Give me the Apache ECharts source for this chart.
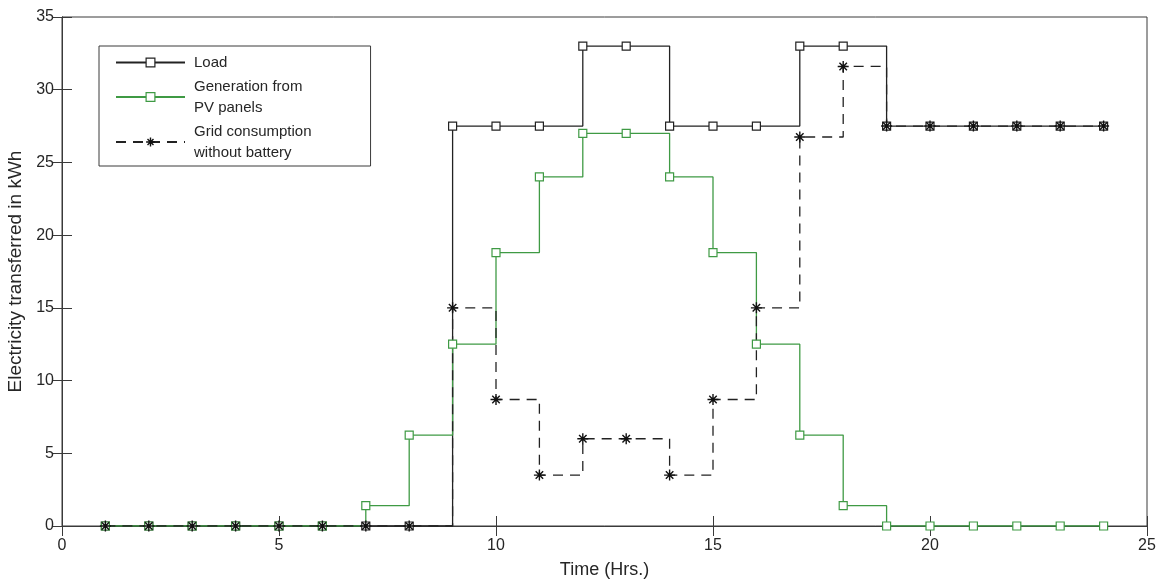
<!DOCTYPE html>
<html>
<head>
<meta charset="utf-8">
<script src="https://cdn.jsdelivr.net/npm/echarts@6/dist/echarts.min.js"></script>
<style>
  html, body { margin: 0; padding: 0; background: #fff; }
  #chart { width: 1158px; height: 583px; }
</style>
</head>
<body>
<div id="chart"></div>
<script>
var hours = [1, 2, 3, 4, 5, 6, 7, 8, 9, 10, 11, 12, 13, 14, 15, 16, 17, 18, 19, 20, 21, 22, 23, 24];
var loadVals = [0, 0, 0, 0, 0, 0, 0, 0, 27.5, 27.5, 27.5, 33, 33, 27.5, 27.5, 27.5, 33, 33, 27.5, 27.5, 27.5, 27.5, 27.5, 27.5];
var pvVals = [0, 0, 0, 0, 0, 0, 1.4, 6.25, 12.5, 18.8, 24, 27, 27, 24, 18.8, 12.5, 6.25, 1.4, 0, 0, 0, 0, 0, 0];
var gridVals = [0, 0, 0, 0, 0, 0, 0, 0, 15, 8.7, 3.5, 6, 6, 3.5, 8.7, 15, 26.75, 31.6, 27.5, 27.5, 27.5, 27.5, 27.5, 27.5];
var seriesNames = ['Load', 'Generation from\nPV panels', 'Grid consumption\nwithout battery'];

function pairs(vals) {
    var out = [];
    for (var i = 0; i < hours.length; i++) {
        out.push([hours[i], vals[i]]);
    }
    return out;
}

var textColor = '#262626';
var boxColor = '#3a3a3a';
var pvColor = '#3f9a44';
var asterisk = 'path://M5,0L5,10M0,5L10,5M1.6,1.6L8.4,8.4M8.4,1.6L1.6,8.4';
var font = 'Liberation Sans, Arial, sans-serif';

var myChart = echarts.init(document.getElementById('chart'));

var option = {
    backgroundColor: '#fff',
    animation: false,
    grid: {
        left: 62,
        right: 11,
        top: 17,
        bottom: 57,
        containLabel: false,
        outerBoundsMode: 'none',
        show: true,
        borderColor: boxColor,
        borderWidth: 1,
        backgroundColor: 'transparent'
    },
    legend: {
        orient: 'vertical',
        left: 99,
        top: 46,
        data: [
            { name: seriesNames[0], itemStyle: { color: '#fff', borderColor: '#222', borderWidth: 1.2 } },
            { name: seriesNames[1], itemStyle: { color: '#fff', borderColor: pvColor, borderWidth: 1.2 } },
            { name: seriesNames[2], itemStyle: { color: 'transparent', borderColor: '#111', borderWidth: 1.4 } }
        ],
        backgroundColor: '#fff',
        borderColor: boxColor,
        borderWidth: 1,
        borderRadius: 0,
        padding: [6, 59, 3, 16],
        itemWidth: 69,
        itemHeight: 11,
        itemGap: 3,
        textStyle: {
            fontFamily: font,
            fontSize: 15,
            lineHeight: 21,
            color: textColor,
            padding: [0, 0, 0, 4]
        }
    },
    xAxis: [{
        type: 'value',
        min: 0,
        max: 25,
        interval: 5,
        name: 'Time (Hrs.)',
        nameLocation: 'middle',
        nameGap: 35,
        nameTextStyle: { fontFamily: font, fontSize: 18, color: textColor },
        axisLine: { show: true, onZero: false, lineStyle: { color: boxColor } },
        axisTick: { show: true, inside: true, length: 10, lineStyle: { color: boxColor } },
        axisLabel: { margin: 12, fontFamily: font, fontSize: 16, color: textColor },
        splitLine: { show: false }
    }, {
        type: 'value',
        position: 'top',
        min: 0,
        max: 25,
        interval: 5,
        axisLine: { show: true, lineStyle: { color: boxColor } },
        axisTick: { show: true, inside: true, length: 10, lineStyle: { color: boxColor } },
        axisLabel: { show: false },
        splitLine: { show: false }
    }],
    yAxis: [{
        type: 'value',
        min: 0,
        max: 35,
        interval: 5,
        name: 'Electricity transferred in kWh',
        nameLocation: 'middle',
        nameGap: 33,
        nameTextStyle: { fontFamily: font, fontSize: 19, color: textColor },
        axisLine: { show: true, onZero: false, lineStyle: { color: boxColor } },
        axisTick: { show: true, inside: true, length: 10, lineStyle: { color: boxColor } },
        axisLabel: { margin: 8, fontFamily: font, fontSize: 16, color: textColor },
        splitLine: { show: false }
    }, {
        type: 'value',
        position: 'right',
        min: 0,
        max: 35,
        interval: 5,
        axisLine: { show: true, lineStyle: { color: boxColor } },
        axisTick: { show: true, inside: true, length: 10, lineStyle: { color: boxColor } },
        axisLabel: { show: false },
        splitLine: { show: false }
    }],
    series: [
        {
            name: seriesNames[0],
            type: 'line',
            step: 'end',
            data: pairs(loadVals),
            symbol: 'rect',
            symbolSize: 8,
            lineStyle: { color: '#222', width: 1.3 },
            itemStyle: { color: '#fff', borderColor: '#222', borderWidth: 1.2 }
        },
        {
            name: seriesNames[1],
            type: 'line',
            step: 'end',
            data: pairs(pvVals),
            symbol: 'rect',
            symbolSize: 8,
            lineStyle: { color: pvColor, width: 1.3 },
            itemStyle: { color: '#fff', borderColor: pvColor, borderWidth: 1.2 }
        },
        {
            name: seriesNames[2],
            type: 'line',
            step: 'end',
            data: pairs(gridVals),
            symbol: asterisk,
            symbolSize: 11,
            lineStyle: { color: '#222', width: 1.3, type: [10, 7] },
            itemStyle: { color: 'transparent', borderColor: '#111', borderWidth: 1.4 }
        }
    ]
};
myChart.setOption(option);
</script>
</body>
</html>
